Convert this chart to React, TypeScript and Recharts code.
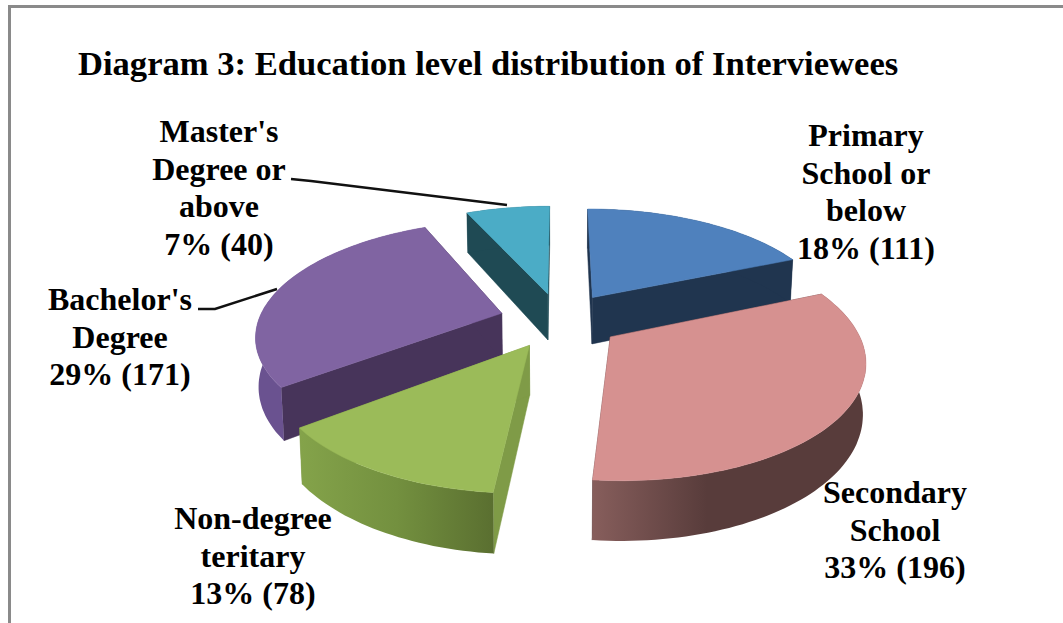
import React from 'react';
import { PieChart, Pie } from 'recharts';

const categories = ['Primary School or below', 'Secondary School', 'Non-degree teritary', "Bachelor's Degree", "Master's Degree or above"];
const counts = [111, 196, 78, 171, 40];
const percents = [18, 33, 13, 29, 7];
const labelLines = [
  ['Primary', 'School or', 'below'],
  ['Secondary', 'School'],
  ['Non-degree', 'teritary'],
  ["Bachelor's", 'Degree'],
  ["Master's", 'Degree or', 'above'],
];
const topColors = ['#4f81bd', '#d69190', '#9bbb59', '#8064a2', '#4bacc6'];
const wallColors = ['#20354f', '#5a3d3c', '#7f9b47', '#47345a', '#1f4a54'];
const rimColors = ['#20354f', 'url(#rimPink)', 'url(#rimGreen)', '#6a5290', '#1f4a54'];

const labelPlaces = [
  { x: 866, y: 146 },
  { x: 895, y: 503 },
  { x: 253, y: 529 },
  { x: 120, y: 310 },
  { x: 219, y: 142 },
];
const leaders: Record<number, string> = {
  3: '198,309 215,309 277,289',
  4: '291,179 311,181 507,205',
};

const data = categories.map((name, i) => ({ name, value: counts[i] }));
const FONT = '"Liberation Serif", "Times New Roman", serif';
const TILT = 0.459;
const EXPLODE = 0.25;
const PERSPECTIVE = 0.177;
const WALL = 48;
const BASE_SHRINK = 0.99;

// back slices first, so the nearer ones paint over them
const backSlices = [0, 3, 4];
const frontSlices = [1, 2];

function makeSlice(only: number[]) {
  return function Slice(props: any) {
    const { cx, cy, outerRadius, startAngle, endAngle, midAngle, index } = props;
    if (!only.includes(index)) return <g />;
    const rad = (d: number) => (d * Math.PI) / 180;
    const offX = EXPLODE * Math.cos(rad(midAngle));
    const offY = -EXPLODE * Math.sin(rad(midAngle));
    const top = (r: number, angle: number): [number, number] => {
      const X = offX + r * Math.cos(rad(angle));
      const Y = offY - r * Math.sin(rad(angle));
      const s = 1 / (1 - PERSPECTIVE * Y);
      return [cx + outerRadius * X * s, cy + outerRadius * TILT * Y * s];
    };
    const low = (r: number, angle: number): [number, number] => {
      const Y = offY - r * Math.sin(rad(angle));
      const s = 1 / (1 - PERSPECTIVE * Y);
      const p = top(r, angle);
      return [cx + (p[0] - cx) * BASE_SHRINK, p[1] + WALL * s];
    };
    const toPts = (list: [number, number][]) => list.map((p) => p.map((v) => v.toFixed(1)).join(',')).join(' ');

    const steps = Math.max(8, Math.ceil(Math.abs(endAngle - startAngle) / 1.5));
    const angles = Array.from({ length: steps + 1 }, (_, k) => startAngle + ((endAngle - startAngle) * k) / steps);
    const arcTop = angles.map((a) => top(1, a));
    const arcLow = angles.map((a) => low(1, a));

    const wall = wallColors[index];
    const rim = rimColors[index];
    const top0 = top(0, 0);
    const low0 = low(0, 0);
    const f = arcTop.length - 1;
    return (
      <g>
        <polygon points={toPts([top0, arcTop[0], arcLow[0], low0])} fill={wall} stroke={wall} strokeWidth={0.5} />
        <polygon points={toPts([top0, arcTop[f], arcLow[f], low0])} fill={wall} stroke={wall} strokeWidth={0.5} />
        <polygon points={toPts([...arcTop, ...[...arcLow].reverse()])} fill={rim} />
        <polygon points={toPts([top0, ...arcTop])} fill={topColors[index]} stroke={topColors[index]} strokeWidth={0.5} />
      </g>
    );
  };
}

function renderLabel(props: any) {
  const { index } = props;
  const place = labelPlaces[index];
  const lines = [...labelLines[index], `${percents[index]}% (${counts[index]})`];
  return (
    <g key={index}>
      {leaders[index] && <polyline points={leaders[index]} fill="none" stroke="#111" strokeWidth={2.5} />}
      <text x={place.x} y={place.y} textAnchor="middle" fontFamily={FONT} fontWeight="bold" fontSize={32} fill="#000">
        {lines.map((line, i) => (
          <tspan key={i} x={place.x} dy={i === 0 ? 0 : 37.5}>
            {line}
          </tspan>
        ))}
      </text>
    </g>
  );
}

const BackSlice = makeSlice(backSlices);
const FrontSlice = makeSlice(frontSlices);

export default function App() {
  return (
    <div style={{ position: 'absolute', left: 0, top: 0, width: 1063, height: 623, background: '#fff', overflow: 'hidden' }}>
      <div
        style={{
          position: 'absolute',
          left: 8,
          top: 5,
          width: 1070,
          height: 640,
          border: '3px solid #8a8a8a',
        }}
      />
      <PieChart width={1063} height={623} style={{ position: 'absolute', left: 0, top: 0 }}>
        <defs>
          <linearGradient id="rimPink" x1="0" y1="0" x2="1" y2="0">
            <stop offset="0" stopColor="#875e5c" />
            <stop offset="0.42" stopColor="#583c3b" />
            <stop offset="1" stopColor="#583c3b" />
          </linearGradient>
          <linearGradient id="rimGreen" x1="0" y1="0" x2="1" y2="0">
            <stop offset="0" stopColor="#84a34a" />
            <stop offset="0.5" stopColor="#73903f" />
            <stop offset="1" stopColor="#5a6f30" />
          </linearGradient>
        </defs>
        <text x={78} y={75} fontFamily={FONT} fontWeight="bold" fontSize={34.6} fill="#000">
          Diagram 3: Education level distribution of Interviewees
        </text>
        <Pie
          data={data}
          dataKey="value"
          cx={555}
          cy={315}
          outerRadius={243}
          startAngle={90}
          endAngle={-270}
          stroke="none"
          isAnimationActive={false}
          shape={BackSlice}
          activeShape={BackSlice}
          inactiveShape={BackSlice}
        />
        <Pie
          data={data}
          dataKey="value"
          cx={555}
          cy={315}
          outerRadius={243}
          startAngle={90}
          endAngle={-270}
          stroke="none"
          isAnimationActive={false}
          shape={FrontSlice}
          activeShape={FrontSlice}
          inactiveShape={FrontSlice}
          label={renderLabel}
          labelLine={false}
        />
      </PieChart>
    </div>
  );
}
